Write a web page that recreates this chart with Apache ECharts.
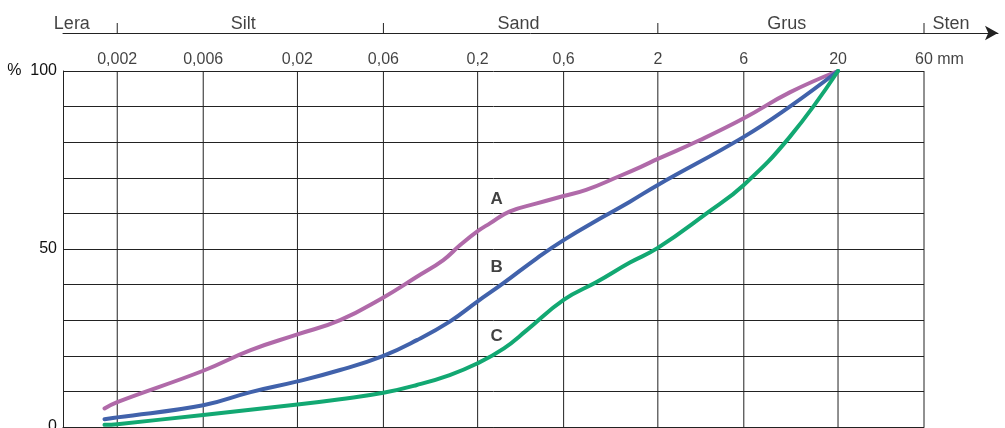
<!DOCTYPE html>
<html>
<head>
<meta charset="utf-8">
<script src="https://cdn.jsdelivr.net/npm/echarts@6/dist/echarts.min.js"></script>
<style>
  html, body { margin: 0; padding: 0; background: #fff; }
  #chart { width: 1005px; height: 428px; }
</style>
</head>
<body>
<div id="chart"></div>
<script>
// ---- data ----
const sizeTicks = [0.002, 0.006, 0.02, 0.06, 0.2, 0.6, 2, 6, 20, 60];
const sizeTickLabels = ['0,002', '0,006', '0,02', '0,06', '0,2', '0,6', '2', '6', '20', '60 mm'];
const classBounds = [0.002, 0.06, 2, 60];
const classNames = ['Lera', 'Silt', 'Sand', 'Grus', 'Sten'];
const classLabelPos = [0.00112, 0.01, 0.337, 10.4, 84.7];
const yTicksShown = [0, 50, 100];

const curveA = [[0.0017, 5.2], [0.002, 7.0], [0.006, 15.8], [0.011, 21.6], [0.02, 26.0], [0.0345, 30.0],
  [0.06, 36.4], [0.092, 42.2], [0.129, 46.9], [0.16, 51.1], [0.2, 55.0], [0.234, 57.2], [0.3, 60.5],
  [0.426, 62.8], [0.6, 64.9], [0.8, 66.6], [1.23, 70.5], [1.6, 73.0], [2, 75.3], [3.43, 80.6],
  [6, 86.7], [10.8, 94.0], [20, 100]];
const curveB = [[0.0017, 2.2], [0.002, 2.7], [0.006, 6.1], [0.011, 9.8], [0.02, 12.8], [0.0345, 16.0],
  [0.06, 20.0], [0.092, 24.4], [0.14, 29.6], [0.2, 35.3], [0.278, 40.4], [0.426, 47.4], [0.6, 52.5],
  [1.0, 59.1], [1.4, 63.3], [2, 68.0], [6, 81.5], [10.8, 90.0], [20, 100]];
const curveC = [[0.0017, 0.6], [0.002, 0.8], [0.006, 3.4], [0.02, 6.3], [0.0345, 7.8], [0.06, 9.6],
  [0.092, 11.8], [0.14, 14.6], [0.2, 17.9], [0.28, 22.1], [0.375, 27.2], [0.6, 35.7], [0.92, 40.8],
  [1.4, 46.2], [2, 50.3], [3.73, 60.0], [6, 68.0], [10.8, 81.5], [20, 100]];
const curveNames = ['A', 'B', 'C'];
const curveLabelPos = [[0.255, 64], [0.255, 44.9], [0.255, 25.4]];
const curveColors = ['#b06aa9', '#4162ab', '#12a872'];

// ---- layout ----
const FONT = 'Liberation Sans, Arial, sans-serif';
const INK = '#111';
const LINE = '#222';
const gLeft = 63, gRight = 924, gTop = 71, gBottom = 427;
const xMin = 0.001, xMax = 60;
const topAxisEnd = 998;
const pxPerDecade = (gRight - gLeft) / (Math.log10(xMax) - Math.log10(xMin));
const topMax = Math.pow(10, Math.log10(xMin) + (topAxisEnd - gLeft) / pxPerDecade);

const chart = echarts.init(document.getElementById('chart'), null, { renderer: 'canvas' });

const series = [];

// vertical grid lines (one tiny line series per grain size tick)
sizeTicks.forEach((v) => {
  series.push({
    type: 'line', xAxisIndex: 0, yAxisIndex: 0, silent: true, symbol: 'none', showSymbol: false,
    data: [[v, 0], [v, 100]],
    lineStyle: { color: LINE, width: 1 },
    z: 2
  });
});
// grain size tick labels above the grid
series.push({
  type: 'scatter', xAxisIndex: 0, yAxisIndex: 0, silent: true, symbolSize: 2,
  itemStyle: { color: 'transparent' },
  data: sizeTicks.map((v, i) => ({
    value: [v, 100], name: sizeTickLabels[i],
    label: i === sizeTicks.length - 1 ? { padding: [0, 0, 0, 31] } : {}
  })),
  label: { show: true, position: 'top', distance: 2, formatter: '{b}', color: INK, fontSize: 16, fontFamily: FONT }
});

[curveA, curveB, curveC].forEach((c, i) => {
  series.push({
    type: 'line', name: curveNames[i], xAxisIndex: 0, yAxisIndex: 0,
    data: c, showSymbol: false, symbol: 'none', smooth: 0.45, silent: true,
    lineStyle: { color: curveColors[i], width: 4, cap: 'round', join: 'round' },
    z: 5
  });
});

series.push({
  type: 'scatter', xAxisIndex: 0, yAxisIndex: 0, silent: true, symbolSize: 2,
  itemStyle: { color: 'transparent' },
  data: curveLabelPos.map((p, i) => ({ value: p, name: curveNames[i] })),
  label: { show: true, position: 'inside', formatter: '{b}', color: INK, fontSize: 17, fontWeight: 'bold', fontFamily: FONT },
  z: 6
});

// top class axis: boundary ticks
classBounds.forEach((v) => {
  series.push({
    type: 'line', xAxisIndex: 1, yAxisIndex: 1, silent: true, symbol: 'none', showSymbol: false,
    data: [[v, 0], [v, 1]],
    lineStyle: { color: LINE, width: 1 }
  });
});
series.push({
  type: 'scatter', xAxisIndex: 1, yAxisIndex: 1, silent: true, symbolSize: 2,
  itemStyle: { color: 'transparent' },
  data: classLabelPos.map((v, i) => ({ value: [v, 1], name: classNames[i] })),
  label: { show: true, position: 'inside', offset: [0, 1], formatter: '{b}', color: INK, fontSize: 18, fontFamily: FONT }
});

chart.setOption({
  animation: false,
  backgroundColor: '#fff',
  grid: [
    { left: gLeft, top: gTop, width: gRight - gLeft, height: gBottom - gTop, containLabel: false, outerBoundsMode: 'none' },
    { left: gLeft, top: 23, width: topAxisEnd - gLeft, height: 10, containLabel: false, outerBoundsMode: 'none' }
  ],
  xAxis: [
    {
      type: 'log', logBase: 10, gridIndex: 0, min: xMin, max: xMax,
      axisLine: { show: true, lineStyle: { color: LINE, width: 1 } },
      axisTick: { show: false }, axisLabel: { show: false }, splitLine: { show: false }, minorSplitLine: { show: false }
    },
    {
      type: 'log', logBase: 10, gridIndex: 1, min: xMin, max: topMax,
      axisLine: { show: true, symbol: ['none', 'arrow'], symbolSize: [11, 13], lineStyle: { color: LINE, width: 1 } },
      axisTick: { show: false }, axisLabel: { show: false }, splitLine: { show: false }
    }
  ],
  yAxis: [
    {
      type: 'value', gridIndex: 0, min: 0, max: 100, interval: 10,
      axisLine: { show: true, lineStyle: { color: LINE, width: 1 } },
      axisTick: { show: false },
      splitLine: { show: true, lineStyle: { color: LINE, width: 1 } },
      axisLabel: {
        show: true, margin: 6, color: INK, fontSize: 16, fontFamily: FONT,
        formatter: v => (yTicksShown.indexOf(v) >= 0 ? (v === 100 ? '%  ' + v : String(v)) : '')
      }
    },
    {
      type: 'value', gridIndex: 1, min: 0, max: 1, show: false
    }
  ],
  series: series
});
</script>
</body>
</html>
